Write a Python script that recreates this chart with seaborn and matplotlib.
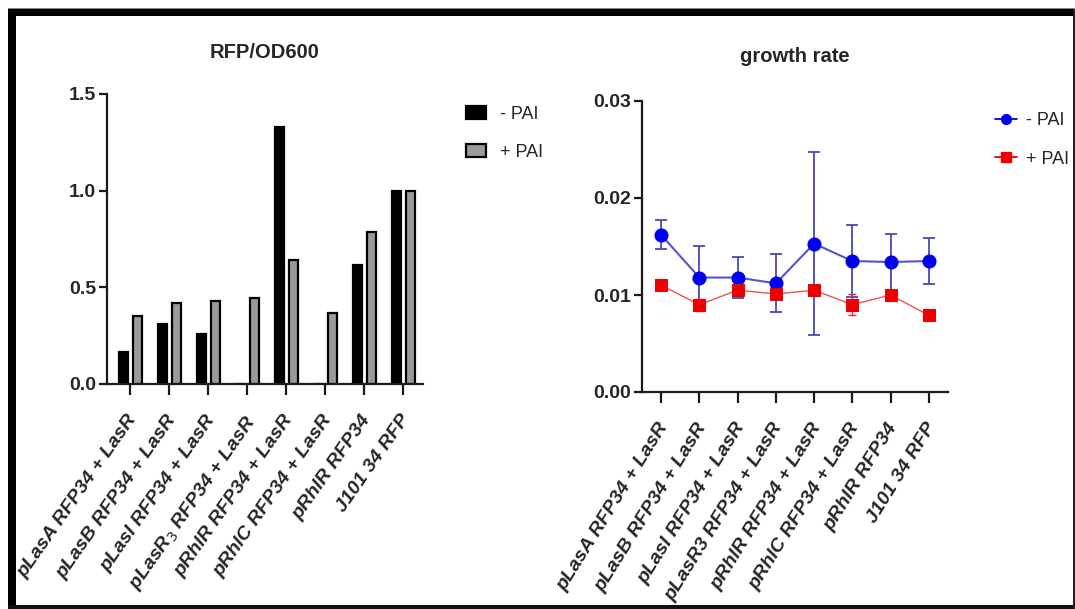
import numpy as np
import pandas as pd
import matplotlib
matplotlib.use("Agg")
import matplotlib.pyplot as plt
import seaborn as sns
from matplotlib import transforms
from matplotlib.patches import Rectangle, Patch
from matplotlib.lines import Line2D

# ---------------- data ----------------
labels_left = ["pLasA RFP34 + LasR", "pLasB RFP34 + LasR", "pLasI RFP34 + LasR",
               "pLasR$_3$ RFP34 + LasR", "pRhlR RFP34 + LasR", "pRhlC RFP34 + LasR",
               "pRhlR RFP34", "J101 34 RFP"]
labels_right = ["pLasA RFP34 + LasR", "pLasB RFP34 + LasR", "pLasI RFP34 + LasR",
                "pLasR3 RFP34 + LasR", "pRhlR RFP34 + LasR", "pRhlC RFP34 + LasR",
                "pRhlR RFP34", "J101 34 RFP"]
conditions = ["- PAI", "+ PAI"]

rfp_minus = [0.164, 0.309, 0.259, 0.0, 1.33, 0.0, 0.613, 1.0]
rfp_plus = [0.354, 0.420, 0.431, 0.444, 0.640, 0.368, 0.784, 1.0]

growth_minus = [0.0162, 0.0118, 0.0118, 0.0112, 0.0153, 0.0135, 0.0134, 0.0135]
growth_minus_err = [0.0015, 0.0032, 0.0021, 0.0030, 0.0094, 0.0037, 0.0029, 0.0024]
growth_plus = [0.0110, 0.0090, 0.0105, 0.0101, 0.0105, 0.0090, 0.0100, 0.0079]
growth_plus_err = [0.0004, 0.0006, 0.0003, 0.0003, 0.0003, 0.0011, 0.0003, 0.0003]

# ---------------- style ----------------
sns.set_style("ticks")
plt.rcParams["font.family"] = ["Liberation Sans", "DejaVu Sans"]
plt.rcParams["mathtext.fontset"] = "dejavusans"

W, H = 1075, 609
fig = plt.figure(figsize=(W / 100, H / 100), dpi=100)
fig.patch.set_facecolor("white")

def px_axes(x0, x1, ytop, ybot):
    return fig.add_axes([x0 / W, 1 - ybot / H, (x1 - x0) / W, (ybot - ytop) / H])

ax1 = px_axes(107, 423, 94, 384)
ax2 = px_axes(642, 948, 101, 392)

# ---------------- left: bar chart ----------------
df1 = pd.DataFrame({
    "construct": labels_left * 2,
    "value": rfp_minus + rfp_plus,
    "cond": [conditions[0]] * len(labels_left) + [conditions[1]] * len(labels_left),
})
sns.barplot(data=df1, x="construct", y="value", hue="cond", order=labels_left,
            hue_order=conditions, palette=["#000000", "#9a9a9a"], width=0.72, gap=0.33,
            edgecolor="black", linewidth=1.6, ax=ax1, legend=False)
ax1.set_ylim(0, 1.5)
ax1.set_xlim(-0.6, 7.5)
ax1.set_yticks([0.0, 0.5, 1.0, 1.5])
ax1.set_yticklabels(["0.0", "0.5", "1.0", "1.5"])
ax1.set_title("RFP/OD600", fontsize=14.5, fontweight="bold", pad=26)

# ---------------- right: growth rate ----------------
x_pos = np.arange(len(labels_right))
df_m = pd.DataFrame({"construct": labels_right, "rate": growth_minus})
df_p = pd.DataFrame({"construct": labels_right, "rate": growth_plus})
ax2.errorbar(x_pos, growth_minus, yerr=growth_minus_err, fmt="none", ecolor="#4848b8",
             elinewidth=1.3, capsize=4, capthick=1.3, zorder=2)
ax2.errorbar(x_pos, growth_plus, yerr=growth_plus_err, fmt="none", ecolor="#e03030",
             elinewidth=1.0, capsize=3, capthick=1.0, zorder=2)
sns.pointplot(data=df_m, x="construct", y="rate", order=labels_right, color="#0000ee",
              markers="o", errorbar=None, markersize=9, linewidth=1.5, ax=ax2, zorder=3)
sns.pointplot(data=df_p, x="construct", y="rate", order=labels_right, color="#ee0000",
              markers="s", errorbar=None, markersize=8, linewidth=1.0, ax=ax2, zorder=3)
for ln, col, mc in zip(ax2.lines[-2:], ["#5252d6", "#f05050"], ["#0000ee", "#ee0000"]):
    ln.set_color(col)
    ln.set_markerfacecolor(mc)
    ln.set_markeredgecolor(mc)
ax2.set_ylim(0, 0.03)
ax2.set_xlim(-0.5, 7.5)
ax2.set_yticks([0.0, 0.01, 0.02, 0.03])
ax2.set_yticklabels(["0.00", "0.01", "0.02", "0.03"])
ax2.set_title("growth rate", fontsize=14.5, fontweight="bold", pad=28)

# ---------------- common axes styling ----------------
shift = transforms.ScaledTranslation(-4 / 100, 0, fig.dpi_scale_trans)
for ax, labs, rot in ((ax1, labels_left, 55), (ax2, labels_right, 58)):
    sns.despine(ax=ax)
    ax.set_xlabel("")
    ax.set_ylabel("")
    for sp in ("left", "bottom"):
        ax.spines[sp].set_linewidth(1.6)
        ax.spines[sp].set_color("#1a1a1a")
    ax.tick_params(axis="y", length=6, width=1.6, color="#1a1a1a", pad=2)
    ax.tick_params(axis="x", length=8, width=1.6, color="#1a1a1a", pad=12)
    ax.set_xticks(range(len(labs)))
    ax.set_xticklabels(labs, rotation=rot, ha="right", va="top", rotation_mode="anchor",
                       fontsize=14, fontweight="bold", fontstyle="italic")
    for t in ax.get_xticklabels():
        t.set_transform(t.get_transform() + shift)
    for t in ax.get_yticklabels():
        t.set_fontweight("bold")
        t.set_fontsize(14)
    ax.set_facecolor("white")

# ---------------- legends ----------------
h1 = [Patch(facecolor="#000000", edgecolor="black", linewidth=1.6),
      Patch(facecolor="#9a9a9a", edgecolor="black", linewidth=1.6)]
ax1.legend(h1, conditions, loc="upper left", bbox_to_anchor=(466 / W, 1 - 106 / H),
           bbox_transform=fig.transFigure, frameon=False, fontsize=13, borderpad=0,
           borderaxespad=0, handlelength=1.1, handleheight=0.7, handletextpad=0.8,
           labelspacing=1.15)
h2 = [Line2D([], [], color="#0000ee", marker="o", markersize=7, linewidth=1.3),
      Line2D([], [], color="#ee0000", marker="s", markersize=7, linewidth=1.3)]
ax2.legend(h2, conditions, loc="upper left", bbox_to_anchor=(995 / W, 1 - 112 / H),
           bbox_transform=fig.transFigure, frameon=False, fontsize=13, borderpad=0,
           borderaxespad=0, handlelength=1.2, handletextpad=0.5, labelspacing=1.2)

# ---------------- frame around the picture ----------------
def px_rect(x0, y0, x1, y1, color):
    fig.patches.append(Rectangle((x0 / W, 1 - y1 / H), (x1 - x0) / W, (y1 - y0) / H,
                                 transform=fig.transFigure, facecolor=color,
                                 edgecolor="none", zorder=10))

px_rect(8, 8, 1075, 9, "#888888")
px_rect(8, 9, 1073, 16, "#000000")
px_rect(8, 9, 16, 609, "#000000")
px_rect(8, 605, 1075, 609, "#111111")
px_rect(1073, 9, 1075, 609, "#222222")

fig.savefig("out.png", dpi=100, facecolor="white")
